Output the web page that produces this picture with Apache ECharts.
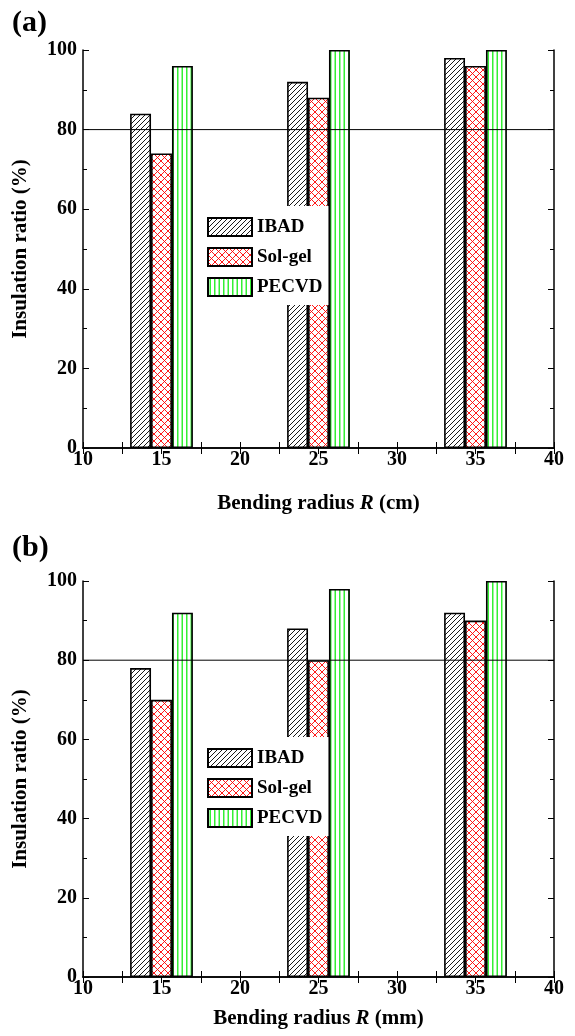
<!DOCTYPE html>
<html>
<head>
<meta charset="utf-8">
<script src="https://cdn.jsdelivr.net/npm/echarts@6/dist/echarts.min.js"></script>
<style>
  html, body { margin: 0; padding: 0; background: #fff; }
  #chart { width: 575px; height: 1036px; }
</style>
</head>
<body>
<div id="chart"></div>
<script>
// 数据
var radius = [15, 25, 35]
var ibadA = [84, 92, 98]
var solgelA = [74, 88, 96]
var pecvdA = [96, 100, 100]
var ibadB = [78, 88, 92]
var solgelB = [70, 80, 90]
var pecvdB = [92, 98, 100]
var names = ['IBAD', 'Sol-gel', 'PECVD']
var refLine = 80

var font = 'Liberation Serif, Times New Roman, serif'
var gridW = 471
var barW = gridW / 30 * 4 / 3

// 填充图案
function makePattern (size, draw) {
  var c = document.createElement('canvas')
  c.width = size
  c.height = size
  var ctx = c.getContext('2d')
  ctx.fillStyle = '#fff'
  ctx.fillRect(0, 0, size, size)
  draw(ctx, size)
  return { image: c, repeat: 'repeat' }
}
var hatch = makePattern(5, function (ctx, s) {
  ctx.strokeStyle = '#000'
  ctx.lineWidth = 0.9
  ctx.beginPath()
  ctx.moveTo(-1, s + 1); ctx.lineTo(s + 1, -1)
  ctx.moveTo(-1, 1); ctx.lineTo(1, -1)
  ctx.moveTo(s - 1, s + 1); ctx.lineTo(s + 1, s - 1)
  ctx.stroke()
})
var cross = makePattern(7, function (ctx, s) {
  ctx.strokeStyle = '#ff0000'
  ctx.lineWidth = 0.9
  ctx.beginPath()
  ctx.moveTo(0, 0); ctx.lineTo(s, s)
  ctx.moveTo(0, s); ctx.lineTo(s, 0)
  ctx.stroke()
})
var vlines = makePattern(9, function (ctx, s) {
  ctx.fillStyle = '#33f033'
  ctx.fillRect(1.5, 0, 1.5, s)
  ctx.fillRect(6, 0, 1.5, s)
})
var fills = [hatch, cross, vlines]

function xAxes (grid, title, gap) {
  return [
    {
      gridIndex: grid, type: 'value', min: 10, max: 40, interval: 5, position: 'bottom',
      name: title, nameLocation: 'middle', nameGap: gap,
      nameTextStyle: {
        color: '#000',
        rich: {
          a: { fontFamily: font, fontWeight: 'bold', fontSize: 21, color: '#000' },
          b: { fontFamily: font, fontWeight: 'bold', fontStyle: 'italic', fontSize: 21, color: '#000' }
        }
      },
      axisLine: { lineStyle: { color: '#000', width: 1.5 } },
      axisTick: { inside: true, length: 6, lineStyle: { color: '#000', width: 1 } },
      minorTick: { show: true, splitNumber: 2, length: 6, lineStyle: { color: '#000', width: 1 } },
      axisLabel: { margin: 2, color: '#000', fontFamily: font, fontWeight: 'bold', fontSize: 20 },
      splitLine: { show: false }
    },
    {
      gridIndex: grid, type: 'value', min: 10, max: 40, interval: 5, position: 'top',
      axisLine: { lineStyle: { color: '#000', width: 1.5 } },
      axisTick: { inside: true, length: 6, lineStyle: { color: '#000', width: 1 } },
      minorTick: { show: true, splitNumber: 2, length: 6, lineStyle: { color: '#000', width: 1 } },
      axisLabel: { show: false },
      splitLine: { show: false }
    }
  ]
}

function yAxes (grid) {
  return [
    {
      gridIndex: grid, type: 'value', min: 0, max: 100, interval: 20, position: 'left',
      name: 'Insulation ratio (%)', nameLocation: 'middle', nameGap: 52,
      nameTextStyle: { color: '#000', fontFamily: font, fontWeight: 'bold', fontSize: 21 },
      axisLine: { show: true, lineStyle: { color: '#000', width: 1.5 } },
      axisTick: { inside: true, length: 6, lineStyle: { color: '#000', width: 1 } },
      minorTick: { show: true, splitNumber: 2, length: 4, lineStyle: { color: '#000', width: 1 } },
      axisLabel: { margin: 6, color: '#000', fontFamily: font, fontWeight: 'bold', fontSize: 20 },
      splitLine: { show: false }
    },
    {
      gridIndex: grid, type: 'value', min: 0, max: 100, interval: 20, position: 'right',
      axisLine: { show: true, lineStyle: { color: '#000', width: 1.5 } },
      axisTick: { inside: true, length: 6, lineStyle: { color: '#000', width: 1 } },
      minorTick: { show: true, splitNumber: 2, length: 4, lineStyle: { color: '#000', width: 1 } },
      axisLabel: { show: false },
      splitLine: { show: false }
    }
  ]
}

function barSeries (xi, yi, sets) {
  var out = sets.map(function (vals, k) {
    return {
      name: names[k],
      type: 'bar',
      xAxisIndex: xi,
      yAxisIndex: yi,
      barWidth: barW,
      barGap: '0%',
      data: radius.map(function (r, i) { return [r, vals[i]] }),
      itemStyle: { color: fills[k], borderColor: '#000', borderWidth: 1.6 },
      emphasis: { disabled: true }
    }
  })
  // 80% 参考线
  out.push({
    type: 'line',
    xAxisIndex: xi,
    yAxisIndex: yi,
    data: [[10, refLine], [40, refLine]],
    symbol: 'none',
    z: 5,
    silent: true,
    lineStyle: { color: '#000', width: 1 }
  })
  return out
}

function legendAt (top) {
  return {
    orient: 'vertical',
    left: 200,
    top: top,
    data: names,
    selectedMode: false,
    icon: 'rect',
    itemWidth: 44,
    itemHeight: 18,
    itemGap: 10,
    padding: [11, 6, 8, 7],
    backgroundColor: '#fff',
    itemStyle: { borderColor: '#000', borderWidth: 2 },
    textStyle: { color: '#000', fontFamily: font, fontWeight: 'bold', fontSize: 19 }
  }
}

var chart = echarts.init(document.getElementById('chart'))
chart.setOption({
  animation: false,
  backgroundColor: '#fff',
  graphic: [
    { type: 'text', left: 12, top: 8, style: { text: '(a)', font: 'bold 30px ' + font, fill: '#000' } },
    { type: 'text', left: 12, top: 533, style: { text: '(b)', font: 'bold 30px ' + font, fill: '#000' } }
  ],
  grid: [
    { left: 83, top: 50, width: gridW, height: 398 },
    { left: 83, top: 581, width: gridW, height: 396 }
  ],
  legend: [legendAt(206), legendAt(737)],
  xAxis: xAxes(0, '{a|Bending radius }{b|R}{a| (cm)}', 45).concat(xAxes(1, '{a|Bending radius }{b|R}{a| (mm)}', 31)),
  yAxis: yAxes(0).concat(yAxes(1)),
  series: barSeries(0, 0, [ibadA, solgelA, pecvdA]).concat(barSeries(2, 2, [ibadB, solgelB, pecvdB]))
})
</script>
</body>
</html>
